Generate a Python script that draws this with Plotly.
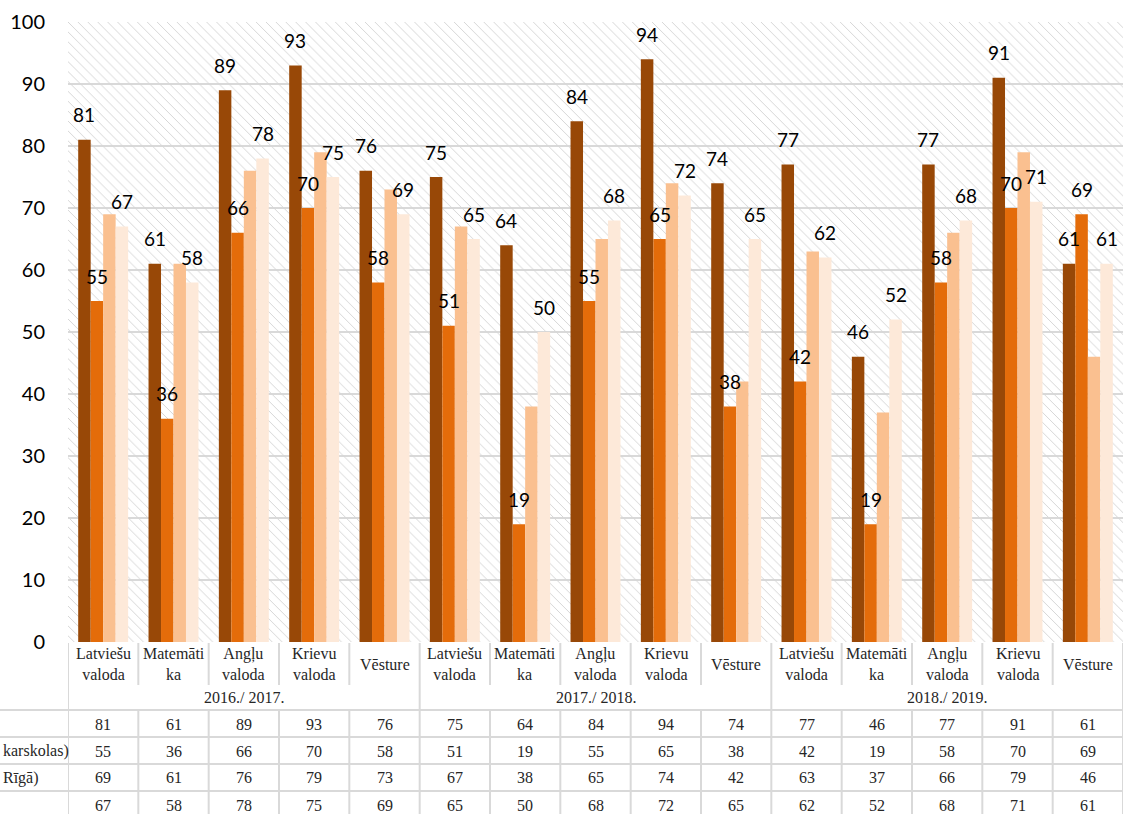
import plotly.graph_objects as go

# ---------------- data ----------------
years = ["2016./ 2017.", "2017./ 2018.", "2018./ 2019."]
subjects = ["Latviešu<br>valoda", "Matemāti<br>ka", "Angļu<br>valoda", "Krievu<br>valoda", "Vēsture"]
series_names = ["Latvijā", "karskolas)", "Rīgā)", "Rīga"]
s1 = [81, 61, 89, 93, 76, 75, 64, 84, 94, 74, 77, 46, 77, 91, 61]
s2 = [55, 36, 66, 70, 58, 51, 19, 55, 65, 38, 42, 19, 58, 70, 69]
s3 = [69, 61, 76, 79, 73, 67, 38, 65, 74, 42, 63, 37, 66, 79, 46]
s4 = [67, 58, 78, 75, 69, 65, 50, 68, 72, 65, 62, 52, 68, 71, 61]
y_ticks = [0, 10, 20, 30, 40, 50, 60, 70, 80, 90, 100]

series = [s1, s2, s3, s4]
colors = ["#984807", "#E46C0A", "#FAC090", "#FDE9D9"]
labeled = [True, True, False, True]
show_row_name = [False, True, True, False]

# ---------------- geometry ----------------
FW, FH = 1123, 814
L, T, R, B = 68, 22, 0, 172
W, H = FW - L - R, FH - T - B
n = len(s1)
xs = list(range(n))
group_w = 0.71
bw = group_w / 4
grid_col = "#D9D9D9"
txt_col = "#262626"
serif = "Liberation Serif"
tsize = 16

fig = go.Figure()

# hatched plot background (drawn first, below the data bars)
x0, x1 = -0.5, n - 0.5
fig.add_trace(go.Bar(
    x=[(x0 + x1) / 2], y=[y_ticks[-1]], width=[x1 - x0],
    marker=dict(color="rgba(0,0,0,0)", line=dict(width=0),
                pattern=dict(shape="\\", size=7, solidity=0.14, fgcolor="#D6D6D6",
                             bgcolor="rgba(0,0,0,0)", fgopacity=1, fillmode="overlay")),
    hoverinfo="skip", showlegend=False))

for si, vals in enumerate(series):
    off = -group_w / 2 + si * bw
    fig.add_trace(go.Bar(
        x=xs, y=vals, width=bw, offset=off, name=series_names[si],
        marker=dict(color=colors[si], line=dict(width=0)), showlegend=False))

annotations = []
shapes = []

# data labels
for si, vals in enumerate(series):
    if not labeled[si]:
        continue
    cx = -group_w / 2 + (si + 0.5) * bw
    for i, v in enumerate(vals):
        annotations.append(dict(x=i + cx, y=v, xref="x", yref="y", text=str(v),
                                showarrow=False, yanchor="middle", yshift=25,
                                font=dict(family="Lato", size=19, color="#000000")))

def py(px):
    return -px / H

# category labels
for i in range(n):
    annotations.append(dict(x=i, y=py(22), xref="x", yref="paper", text=subjects[i % 5],
                            showarrow=False, yanchor="middle",
                            font=dict(family=serif, size=tsize, color=txt_col)))
# year labels
for yi, yr in enumerate(years):
    annotations.append(dict(x=yi * 5 + 2, y=py(55), xref="x", yref="paper", text=yr,
                            showarrow=False, yanchor="middle",
                            font=dict(family=serif, size=tsize, color=txt_col)))
# table values
row_centers = [82, 109, 136, 163]
for si, vals in enumerate(series):
    for i, v in enumerate(vals):
        annotations.append(dict(x=i, y=py(row_centers[si]), xref="x", yref="paper", text=str(v),
                                showarrow=False, yanchor="middle",
                                font=dict(family=serif, size=tsize, color=txt_col)))
    if show_row_name[si]:
        annotations.append(dict(x=(1 - L) / W, y=py(row_centers[si]),
                                xref="paper", yref="paper", text=series_names[si],
                                showarrow=False, xanchor="left", yanchor="middle",
                                font=dict(family=serif, size=tsize, color=txt_col)))

line = dict(color=grid_col, width=2)
# horizontal table lines
for yy in [68, 95, 122, 149]:
    shapes.append(dict(type="line", xref="paper", yref="paper", x0=-L / W, x1=1,
                       y0=py(yy), y1=py(yy), line=line, layer="above"))
# vertical table lines
for b in range(n + 1):
    xb = b - 0.5
    if b % 5 == 0:
        shapes.append(dict(type="line", xref="x", yref="paper", x0=xb, x1=xb,
                           y0=py(1), y1=py(B + 5), line=line))
    else:
        shapes.append(dict(type="line", xref="x", yref="paper", x0=xb, x1=xb,
                           y0=py(1), y1=py(43), line=line))
        shapes.append(dict(type="line", xref="x", yref="paper", x0=xb, x1=xb,
                           y0=py(68), y1=py(B + 5), line=line))

fig.update_layout(
    width=FW, height=FH, autosize=False,
    margin=dict(l=L, r=R, t=T, b=B, pad=0),
    paper_bgcolor="white", plot_bgcolor="white",
    barmode="overlay", showlegend=False,
    annotations=annotations, shapes=shapes,
    xaxis=dict(range=[x0, x1], showticklabels=False, showgrid=False, zeroline=False,
               showline=False, ticks="", fixedrange=True),
    yaxis=dict(range=[0, y_ticks[-1]], tickvals=y_ticks, showgrid=True, gridcolor=grid_col,
               gridwidth=2, zeroline=False, showline=False, ticks="",
               ticklabelstandoff=22,
               tickfont=dict(family="Lato", size=20, color="#000000"), fixedrange=True),
)

fig.write_html("out.html", config={"displayModeBar": False},
               post_script="document.body.style.margin='0';document.body.style.overflow='hidden';")
